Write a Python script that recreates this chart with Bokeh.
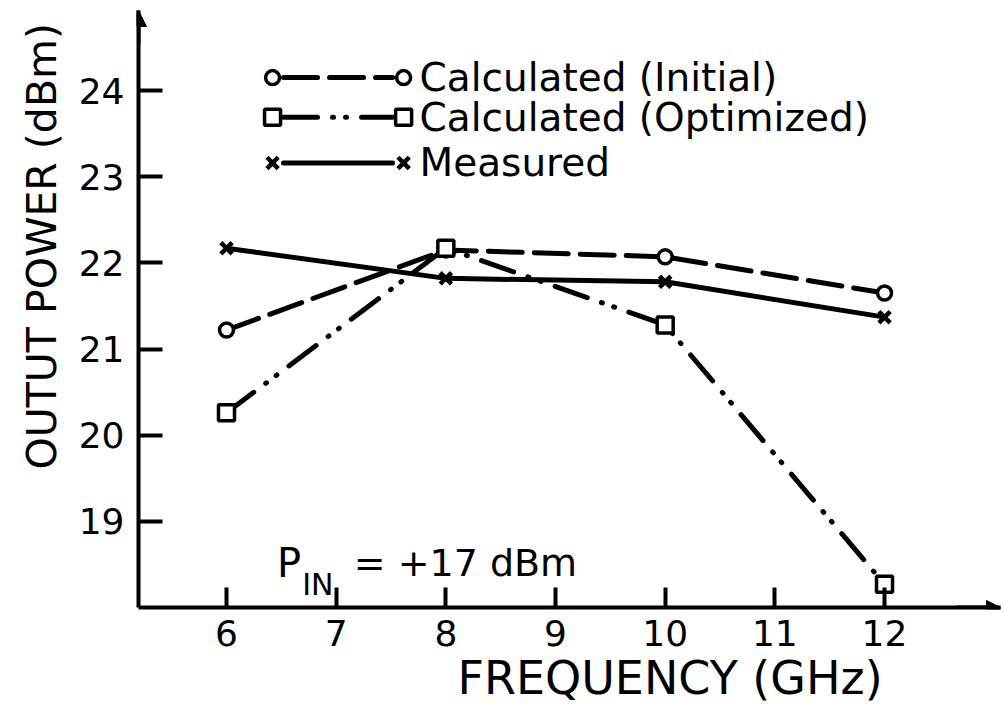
from bokeh.plotting import figure
from bokeh.models import Range1d, FixedTicker, LinearAxis, Arrow, NormalHead, Label, Title
from bokeh.embed import file_html
from bokeh.resources import INLINE

# ---------------- data ----------------
freq_ghz = [6, 8, 10, 12]
power_calc_initial = [21.22, 22.15, 22.07, 21.65]
power_calc_optimized = [20.26, 22.17, 21.28, 18.27]
power_measured = [22.17, 21.82, 21.78, 21.37]
series_labels = ["Calculated (Initial)", "Calculated (Optimized)", "Measured"]
x_tick_values = [6, 7, 8, 9, 10, 11, 12]
y_tick_values = [19, 20, 21, 22, 23, 24]
x_title = "FREQUENCY (GHz)"
y_title = "OUTUT POWER (dBm)"
note_main, note_sub, note_rest = "P", "IN", "= +17 dBm"

# ---------------- layout / style ----------------
W, H = 1003, 704
X0, X1 = 5.1976, 13.0575
Y0, Y1 = 18.0, 24.929
FONT = "DejaVu Sans"
INK = "black"

DASH_INITIAL = "34 12"
DASH_OPT = "34 15 1 12 1 15"
LW = 5

p = figure(width=W, height=H, x_range=Range1d(X0, X1), y_range=Range1d(Y0, Y1),
           output_backend="svg", toolbar_location=None,
           min_border_left=138, min_border_right=3, min_border_top=10, min_border_bottom=96,
           x_axis_location=None, y_axis_location=None)
p.outline_line_color = None
p.xgrid.visible = False
p.ygrid.visible = False
p.background_fill_color = "white"
p.border_fill_color = "white"

xax = LinearAxis(ticker=FixedTicker(ticks=x_tick_values))
yax = LinearAxis(ticker=FixedTicker(ticks=y_tick_values))
for ax, tin in ((xax, 20), (yax, 24)):
    ax.axis_line_width = 4
    ax.axis_line_color = INK
    ax.major_tick_in = tin
    ax.major_tick_out = 0
    ax.major_tick_line_width = 4
    ax.major_tick_line_color = INK
    ax.minor_tick_line_color = None
    ax.major_label_text_font = FONT
    ax.major_label_text_font_size = "36px"
    ax.major_label_text_color = INK
xax.major_label_standoff = 12
yax.major_label_standoff = 14
p.add_layout(xax, "below")
p.add_layout(yax, "left")

p.add_layout(Title(text=x_title, align="left", offset=319, text_font=FONT,
                   text_font_size="46px", text_font_style="normal", text_color=INK,
                   standoff=0), "below")
p.add_layout(Title(text=y_title, align="left", offset=138, text_font=FONT,
                   text_font_size="41px", text_font_style="normal", text_color=INK,
                   standoff=20), "left")

# axis arrow heads
p.add_layout(Arrow(end=NormalHead(size=16, fill_color=INK, line_color=INK, line_width=1),
                   x_start=X0, y_start=Y1 - 0.4, x_end=X0, y_end=Y1,
                   line_width=4, line_color=INK))
p.add_layout(Arrow(end=NormalHead(size=14, fill_color=INK, line_color=INK, line_width=1),
                   x_start=X1 - 0.4, y_start=Y0, x_end=X1, y_end=Y0,
                   line_width=4, line_color=INK))

# ---------------- series ----------------
p.line(freq_ghz, power_calc_initial, line_width=LW, line_color=INK,
       line_dash=DASH_INITIAL, line_cap="round")
p.line(freq_ghz, power_calc_optimized, line_width=LW, line_color=INK,
       line_dash=DASH_OPT, line_cap="round")
p.line(freq_ghz, power_measured, line_width=LW, line_color=INK, line_cap="round")

def mk_circle(xs, ys):
    p.scatter(xs, ys, marker="circle", size=14, line_width=3.5, line_color=INK, fill_color="white")

def mk_square(xs, ys):
    p.scatter(xs, ys, marker="square", size=16, line_width=3.5, line_color=INK, fill_color="white")

def mk_x(xs, ys):
    p.scatter(xs, ys, marker="x", size=16, line_width=4.5, line_color=INK)

mk_circle(freq_ghz, power_calc_initial)
mk_square(freq_ghz, power_calc_optimized)
mk_x(freq_ghz, power_measured)

# ---------------- legend (marker - line - marker) ----------------
LEG_X = (6.42, 7.615)
LEG_TEXT_X = 7.76
LEG_ROWS = [24.15, 23.69, 23.16]
GAP = 0.1
styles = [(DASH_INITIAL, mk_circle), (DASH_OPT, mk_square), ("solid", mk_x)]
for (dash, mk), yy, lab in zip(styles, LEG_ROWS, series_labels):
    p.line([LEG_X[0] + GAP, LEG_X[1] - GAP], [yy, yy], line_width=LW, line_color=INK,
           line_dash=dash, line_cap="round")
    mk([LEG_X[0], LEG_X[1]], [yy, yy])
    p.add_layout(Label(x=LEG_TEXT_X, y=yy, text=lab, text_font=FONT, text_font_size="39px",
                       text_baseline="middle", text_align="left", text_color=INK))

# ---------------- annotation P_IN ----------------
p.add_layout(Label(x=6.46, y=18.52, text=note_main, text_font=FONT, text_font_size="40px",
                   text_baseline="alphabetic", text_color=INK))
p.add_layout(Label(x=6.69, y=18.27, text=note_sub, text_font=FONT, text_font_size="30px",
                   text_baseline="alphabetic", text_color=INK))
p.add_layout(Label(x=7.16, y=18.52, text=note_rest, text_font=FONT, text_font_size="38px",
                   text_baseline="alphabetic", text_color=INK))

open("out.html", "w").write(file_html(p, INLINE))
